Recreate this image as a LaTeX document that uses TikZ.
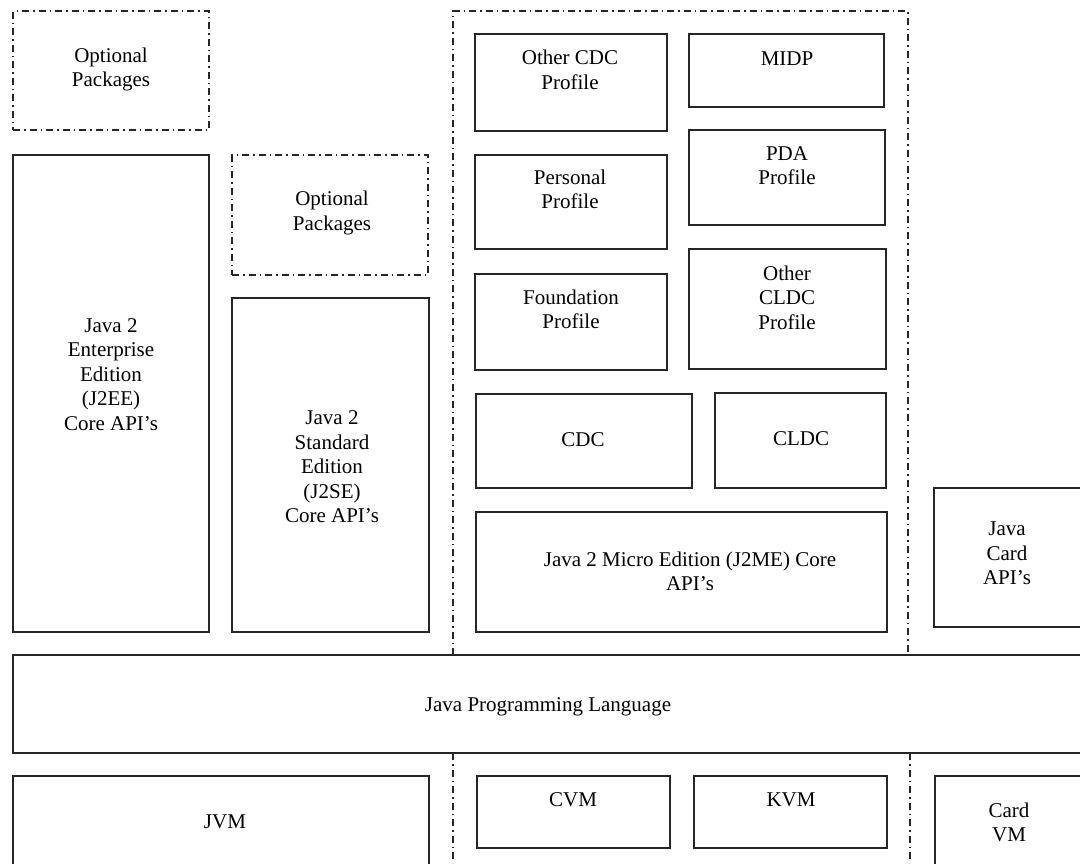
\documentclass[tikz,border=0pt]{standalone}
\usepackage{fontspec}
\setmainfont{Liberation Serif}
\begin{document}
\begin{tikzpicture}[x=1pt,y=-1pt,
  box/.style={draw=black!85, line width=1.2pt, inner sep=0pt, outer sep=0pt},
  dbox/.style={box, dash pattern=on 7pt off 4pt on 1.5pt off 4pt},
  dline/.style={draw=black!85, line width=1.2pt, dash pattern=on 7pt off 4pt on 1.5pt off 4pt},
  txt/.style={align=center, inner sep=0pt, font=\fontsize{21}{24.5}\selectfont}]
\clip (0,0) rectangle (1080,863);
\fill[white] (0,0) rectangle (1080,863);
% left column
\node[dbox, minimum width=196pt, minimum height=119pt] (op1) at (111,70.5) {};
\node[box, minimum width=196pt, minimum height=477pt] (j2ee) at (111,393.5) {};
\node[dbox, minimum width=196pt, minimum height=120pt] (op2) at (330,215) {};
\node[box, minimum width=197pt, minimum height=334pt] (j2se) at (330.5,465) {};
% J2ME region
\coordinate (rbl) at (453,655);
\coordinate (rtl) at (453,11);
\coordinate (rtr) at (908,11);
\coordinate (rbr) at (908,655);
\draw[dline] (rbl) -- (rtl) -- (rtr) -- (rbr);
\node[box, minimum width=192pt, minimum height=97pt] (ocdc) at (571,82.5) {};
\node[box, minimum width=195pt, minimum height=73pt] (midp) at (786.5,70.5) {};
\node[box, minimum width=192pt, minimum height=94pt] (pers) at (571,202) {};
\node[box, minimum width=196pt, minimum height=95pt] (pda) at (787,177.5) {};
\node[box, minimum width=192pt, minimum height=96pt] (found) at (571,322) {};
\node[box, minimum width=197pt, minimum height=120pt] (ocldc) at (787.5,309) {};
\node[box, minimum width=216pt, minimum height=94pt] (cdc) at (584,441) {};
\node[box, minimum width=171pt, minimum height=95pt] (cldc) at (800.5,440.5) {};
\node[box, minimum width=411pt, minimum height=120pt] (j2me) at (681.5,572) {};
% Java Card
\node[box, minimum width=156pt, minimum height=139pt] (jcard) at (1012,557.5) {};
% language
\node[box, minimum width=1077pt, minimum height=98pt] (jpl) at (551.5,704) {};
% VMs
\node[box, minimum width=416pt, minimum height=124pt] (jvm) at (221,838) {};
\node[box, minimum width=193pt, minimum height=72pt] (cvm) at (573.5,812) {};
\node[box, minimum width=193pt, minimum height=72pt] (kvm) at (790.5,812) {};
\node[box, minimum width=155pt, minimum height=124pt] (cardvm) at (1012.5,838) {};
\coordinate (bl1) at (453,753);
\coordinate (bl2) at (453,863);
\coordinate (br1) at (910,753);
\coordinate (br2) at (910,863);
\draw[dline] (bl1) -- (bl2);
\draw[dline] (br1) -- (br2);
% texts
\node[txt] (t-op1) at (111,69.5) {Optional\\Packages};
\node[txt] (t-op2) at (332,213) {Optional\\Packages};
\node[txt] (t-j2ee) at (111,374.5) {Java 2\\Enterprise\\Edition\\(J2EE)\\Core API's};
\node[txt] (t-j2se) at (332,467) {Java 2\\Standard\\Edition\\(J2SE)\\Core API's};
\node[txt] (t-ocdc) at (570,70) {Other CDC\\Profile};
\node[txt] (t-midp) at (787,59) {MIDP};
\node[txt] (t-pers) at (570,189.5) {Personal\\Profile};
\node[txt] (t-pda) at (787,165.5) {PDA\\Profile};
\node[txt] (t-found) at (571,309.5) {Foundation\\Profile};
\node[txt] (t-ocldc) at (787,297.5) {Other\\CLDC\\Profile};
\node[txt] (t-cdc) at (583,440) {CDC};
\node[txt] (t-cldc) at (801,439) {CLDC};
\node[txt] (t-j2me) at (690,571.5) {Java 2 Micro Edition (J2ME) Core\\API's};
\node[txt] (t-jcard) at (1007,553.5) {Java\\Card\\API's};
\node[txt] (t-jpl) at (548,707) {Java Programming Language};
\node[txt] (t-jvm) at (225,822) {JVM};
\node[txt] (t-cvm) at (573,800) {CVM};
\node[txt] (t-kvm) at (791,800) {KVM};
\node[txt] (t-cardvm) at (1009,822.5) {Card\\VM};
\end{tikzpicture}
\end{document}
